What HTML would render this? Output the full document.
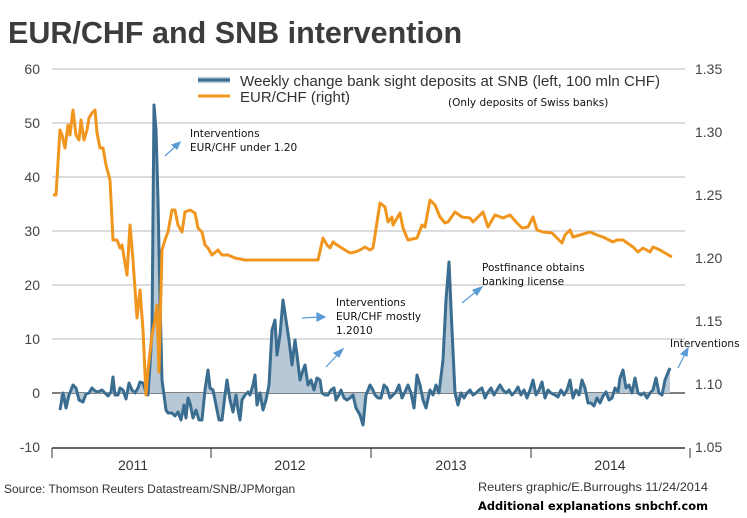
<!DOCTYPE html><html><head><meta charset="utf-8"><style>body{margin:0;background:#fff}svg{display:block}</style></head><body>
<svg width="747" height="518" viewBox="0 0 747 518" font-family="Liberation Sans, sans-serif">
<rect width="747" height="518" fill="#fff"/>
<text x="8" y="43" font-size="30.5" font-weight="bold" fill="#3c3c3c">EUR/CHF and SNB intervention</text>
<g stroke="#c8c8c8" stroke-width="1.2">
<line x1="52" y1="69" x2="685" y2="69"/><line x1="52" y1="123" x2="685" y2="123"/><line x1="52" y1="177" x2="685" y2="177"/><line x1="52" y1="231" x2="685" y2="231"/><line x1="52" y1="285" x2="685" y2="285"/><line x1="52" y1="339" x2="685" y2="339"/>
</g>
<line x1="52" y1="393" x2="685" y2="393" stroke="#000" stroke-width="1"/>
<line x1="52" y1="448" x2="685" y2="448" stroke="#333" stroke-width="1.5"/>
<g stroke="#333"><line x1="52" y1="448" x2="52" y2="458"/><line x1="211" y1="448" x2="211" y2="458"/><line x1="371" y1="448" x2="371" y2="458"/><line x1="531" y1="448" x2="531" y2="458"/><line x1="690" y1="448" x2="690" y2="458"/></g>
<g font-size="14" fill="#444" text-anchor="end"><text x="40" y="74">60</text><text x="40" y="128">50</text><text x="40" y="182">40</text><text x="40" y="236">30</text><text x="40" y="290">20</text><text x="40" y="344">10</text><text x="40" y="398">0</text><text x="40" y="452">-10</text></g>
<g font-size="14" fill="#444"><text x="695" y="74">1.35</text><text x="695" y="137">1.30</text><text x="695" y="200">1.25</text><text x="695" y="263">1.20</text><text x="695" y="326">1.15</text><text x="695" y="389">1.10</text><text x="695" y="452">1.05</text></g>
<g font-size="14" fill="#333" text-anchor="middle"><text x="133" y="470">2011</text><text x="290" y="470">2012</text><text x="451" y="470">2013</text><text x="610" y="470">2014</text></g>
<polyline fill="#b7c8d6" stroke="none" points="60,393 60,410 63,393 66,408 69,395 73,385 76,388 79,400 83,402 86,394 89,393 92,388 95,391 98,392 102,390 105,393 108,396 111,392 113,377 115,395 118,395 120,388 123,390 126,399 129,383 132,390 135,393 138,388 140,382 143,383 146,392 148,395 150,365 152,330 154,105 156,130 158,200 160,300 162,380 164,395 166,410 168,413 172,413 175,416 178,412 181,420 184,405 186,418 188,398 190,403 193,418 196,410 199,420 202,420 205,390 208,370 210,388 213,390 216,405 219,420 222,420 225,395 227,380 230,400 233,412 236,395 238,410 240,420 242,400 245,395 248,392 250,395 253,385 255,375 257,405 260,393 263,410 266,400 269,385 272,330 275,320 277,355 280,335 283,300 286,320 289,340 292,365 295,340 297,355 300,380 303,370 305,365 308,385 311,380 314,390 317,378 320,380 322,393 325,395 328,395 331,390 334,388 336,400 339,395 341,390 344,398 347,400 350,398 353,395 356,408 360,415 363,425 366,395 370,385 373,390 375,395 378,398 381,398 384,385 387,388 390,398 393,395 396,392 399,385 402,398 405,392 408,385 411,393 414,408 417,375 420,385 423,400 426,408 430,390 433,395 436,385 439,393 443,360 446,300 449,262 452,330 455,393 458,405 461,393 464,398 467,393 470,390 473,395 476,393 479,390 482,388 485,398 488,392 491,388 494,395 497,390 500,385 503,390 506,393 509,390 512,395 515,392 518,387 521,395 524,390 527,398 530,390 533,380 536,395 539,390 542,382 545,398 548,390 551,393 555,395 558,397 561,390 564,395 567,390 570,380 573,398 576,390 579,395 582,380 585,388 588,403 591,403 594,406 597,398 600,403 603,396 606,392 609,400 612,398 615,388 618,392 620,378 623,370 626,388 629,385 632,393 635,378 638,393 641,395 644,393 647,398 650,393 653,390 656,378 659,393 662,395 665,380 667,375 670,368 670,393"/>
<polyline fill="none" stroke="#3a6d8f" stroke-width="3" stroke-linejoin="round" points="60,410 63,393 66,408 69,395 73,385 76,388 79,400 83,402 86,394 89,393 92,388 95,391 98,392 102,390 105,393 108,396 111,392 113,377 115,395 118,395 120,388 123,390 126,399 129,383 132,390 135,393 138,388 140,382 143,383 146,392 148,395 150,365 152,330 154,105 156,130 158,200 160,300 162,380 164,395 166,410 168,413 172,413 175,416 178,412 181,420 184,405 186,418 188,398 190,403 193,418 196,410 199,420 202,420 205,390 208,370 210,388 213,390 216,405 219,420 222,420 225,395 227,380 230,400 233,412 236,395 238,410 240,420 242,400 245,395 248,392 250,395 253,385 255,375 257,405 260,393 263,410 266,400 269,385 272,330 275,320 277,355 280,335 283,300 286,320 289,340 292,365 295,340 297,355 300,380 303,370 305,365 308,385 311,380 314,390 317,378 320,380 322,393 325,395 328,395 331,390 334,388 336,400 339,395 341,390 344,398 347,400 350,398 353,395 356,408 360,415 363,425 366,395 370,385 373,390 375,395 378,398 381,398 384,385 387,388 390,398 393,395 396,392 399,385 402,398 405,392 408,385 411,393 414,408 417,375 420,385 423,400 426,408 430,390 433,395 436,385 439,393 443,360 446,300 449,262 452,330 455,393 458,405 461,393 464,398 467,393 470,390 473,395 476,393 479,390 482,388 485,398 488,392 491,388 494,395 497,390 500,385 503,390 506,393 509,390 512,395 515,392 518,387 521,395 524,390 527,398 530,390 533,380 536,395 539,390 542,382 545,398 548,390 551,393 555,395 558,397 561,390 564,395 567,390 570,380 573,398 576,390 579,395 582,380 585,388 588,403 591,403 594,406 597,398 600,403 603,396 606,392 609,400 612,398 615,388 618,392 620,378 623,370 626,388 629,385 632,393 635,378 638,393 641,395 644,393 647,398 650,393 653,390 656,378 659,393 662,395 665,380 667,375 670,368"/>
<polyline fill="none" stroke="#f0961e" stroke-width="3" stroke-linejoin="round" points="53,195 56,195 60,130 62,135 65,148 68,125 70,135 73,110 76,135 79,140 81,120 84,140 87,130 89,118 92,113 95,110 97,133 100,148 103,148 106,165 110,180 113,240 117,240 120,248 122,245 127,275 130,225 133,260 137,318 140,290 143,330 146,395 148,370 152,335 155,320 157,305 159,372 162,250 165,240 168,232 172,210 175,210 178,225 182,232 185,212 190,210 195,213 198,228 202,232 205,245 208,248 212,255 218,250 222,255 228,255 235,258 245,260 262,260 318,260 323,238 327,245 330,248 333,242 337,245 345,250 350,253 355,252 360,250 365,247 370,250 373,248 380,203 385,207 388,222 392,217 393,225 400,213 403,228 408,240 417,238 422,225 425,227 430,200 435,205 440,217 445,223 448,222 455,212 462,217 470,218 473,222 483,212 488,227 495,215 503,218 510,215 517,223 522,228 528,227 533,217 537,230 543,232 552,233 557,238 562,243 565,235 570,230 573,237 580,235 590,232 597,235 603,237 613,242 617,240 623,240 633,247 638,252 643,248 650,252 653,247 660,250 665,253 672,257"/>
<line x1="198" y1="80" x2="230" y2="80" stroke="#b7c8d6" stroke-width="6"/>
<line x1="198" y1="80" x2="230" y2="80" stroke="#3a6d8f" stroke-width="3"/>
<line x1="198" y1="96" x2="230" y2="96" stroke="#f0961e" stroke-width="3"/>
<g font-size="15" fill="#333"><text x="240" y="86" textLength="420" lengthAdjust="spacingAndGlyphs">Weekly change bank sight deposits at SNB (left, 100 mln CHF)</text><text x="240" y="102">EUR/CHF (right)</text></g>
<g font-family="DejaVu Sans, sans-serif" font-size="10.5" fill="#111">
<text x="448" y="106">(Only deposits of Swiss banks)</text>
<text x="190" y="137">Interventions</text><text x="190" y="151">EUR/CHF under 1.20</text>
<text x="336" y="306">Interventions</text><text x="336" y="320">EUR/CHF mostly</text><text x="336" y="334">1.2010</text>
<text x="482" y="271">Postfinance obtains</text><text x="482" y="285">banking license</text>
<text x="670" y="347">Interventions</text>
</g>
<g stroke="#5a9bd5" stroke-width="1.2" fill="#5a9bd5">
<line x1="165" y1="156" x2="178" y2="144"/><polygon points="180,142 172,145 177,149"/>
<line x1="302" y1="318" x2="320" y2="317"/><polygon points="325,317 317,313 317,321"/>
<line x1="326" y1="367" x2="340" y2="352"/><polygon points="343,349 334,353 339,357"/>
<line x1="462" y1="303" x2="478" y2="290"/><polygon points="482,287 473,290 477,295"/>
<line x1="678" y1="368" x2="686" y2="352"/><polygon points="688,348 681,354 687,356"/>
</g>
<text x="4" y="493" font-size="12" fill="#333">Source: Thomson Reuters Datastream/SNB/JPMorgan</text>
<text x="478" y="491" font-size="12" fill="#333" textLength="230" lengthAdjust="spacingAndGlyphs">Reuters graphic/E.Burroughs 11/24/2014</text>
<text x="478" y="510" font-family="DejaVu Sans, sans-serif" font-size="11.5" font-weight="bold" fill="#000" textLength="230" lengthAdjust="spacingAndGlyphs">Additional explanations snbchf.com</text>
</svg>
</body></html>
